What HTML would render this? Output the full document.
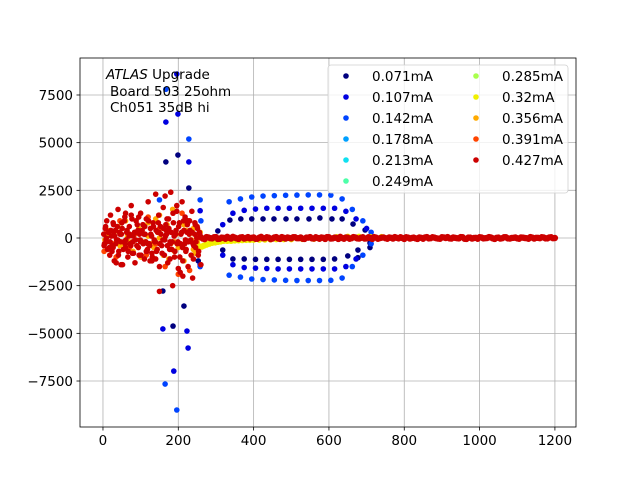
<!DOCTYPE html>
<html><head><meta charset="utf-8"><style>
html,body{margin:0;padding:0;background:#fff;}
svg{display:block;font-family:"DejaVu Sans","Liberation Sans",sans-serif;}
</style></head><body>
<svg id="chart" width="640" height="480" viewBox="0 0 640 480">
<rect x="0" y="0" width="640" height="480" fill="#fff"/>
<g id="grid"></g><g id="marks"></g><g id="axes"></g><g id="legend"></g>
</svg>
<script>
const NS="http://www.w3.org/2000/svg";
const xTicks=[0,200,400,600,800,1000,1200];
const yTicks=[-7500,-5000,-2500,0,2500,5000,7500];
const yTickLabels=["−7500","−5000","−2500","0","2500","5000","7500"];
const seriesNames=["0.071mA","0.107mA","0.142mA","0.178mA","0.213mA","0.249mA","0.285mA","0.32mA","0.356mA","0.391mA","0.427mA"];
const seriesColors=["#00007f","#0000e0","#0044ff","#00a0ff","#10e0f0","#4dffa9","#a9ff4d","#f0f000","#ffaa00","#ff4400","#cc0000"];
const s0X=[305,337,366,395,425,454,486,515,547,576,608,635,664,696,709,709,318,345,375,405,435,465,495,525,555,585,615,650,677,677,199,228,159,215,186,167,253];
const s0Y=[370,940,1000,1000,1000,1000,1000,1000,1000,1050,1000,1000,730,420,-260,-500,-630,-1100,-1100,-1120,-1120,-1120,-1120,-1120,-1120,-1120,-1100,-940,-630,-1030,4350,2620,-2780,-3570,-4620,3990,-1200];
const s1X=[318,345,375,405,435,465,495,525,555,585,615,645,672,700,318,345,375,405,435,465,495,525,555,585,615,645,672,196,167,199,228,159,223,226,188,258,258];
const s1Y=[700,1300,1450,1520,1560,1560,1560,1560,1560,1560,1560,1400,1000,500,-900,-1400,-1550,-1580,-1600,-1620,-1620,-1620,-1620,-1620,-1620,-1500,-1100,8600,6080,6500,3990,-4770,-4880,-5770,-6980,1430,-1400];
const s2X=[258,335,365,395,425,455,485,515,545,575,605,635,662,690,712,258,335,365,395,425,455,485,515,545,575,605,635,662,690,712,228,165,196,167,260,150];
const s2Y=[2000,1900,2050,2150,2200,2220,2240,2250,2260,2260,2250,2050,1500,900,300,-1500,-1950,-2050,-2150,-2180,-2200,-2220,-2230,-2230,-2230,-2220,-2100,-1500,-900,-300,5190,-7660,-9020,7800,900,2000];
const s7X=[250,255,262,268,275,282,290,298,305,312,320,330,340,350,360,370,380,390,400,415,430,445,460,480,500,530,560,590,620,650,680,710,740];
const s7Y=[-300,-500,-450,-400,-350,-300,-250,-230,-200,-180,-150,-150,-150,-130,-120,-110,-100,-100,-90,-85,-80,-70,-60,-60,-60,-50,-40,-30,40,60,60,50,50];
const s8X=[5,12,20,30,40,55,65,80,95,110,120,135,145,150,160,170,180,185,195,205,215,225,235,240,250,258,100,140,190,220,60,90,175,245,15,45,85,130,160,200,230,250,70,110,150,190,215,240,25,120];
const s8Y=[-100,200,-600,300,600,-300,100,-700,500,-200,800,-500,300,1200,-900,700,-300,1500,200,-400,-1200,900,-100,-600,-200,300,-1000,1000,-700,400,900,-400,-1100,-800,400,-400,300,-300,500,-500,200,-100,-200,600,0,-200,700,500,-300,100];
const s9X=[3,10,25,45,70,85,115,150,165,200,210,230,255,140,120,35];
const s9Y=[-700,400,-300,900,-500,200,-900,500,-1500,-1900,1300,-1700,100,-300,1100,-1000];
const s10X=[2,4,6,8,10,12,15,18,20,22,25,28,30,33,36,40,42,45,48,50,55,58,60,63,66,70,72,75,78,80,85,88,90,93,96,100,103,106,110,112,115,118,120,123,126,130,133,136,140,142,145,148,150,153,156,160,163,166,170,172,175,178,180,183,186,190,193,196,200,203,206,210,212,215,218,220,223,226,230,233,236,240,243,246,250,253,256,260,35,75,125,165,205,245,60,115,185,225,140,95,178,52,212,150,27,100,196,238,130,168];
const s10Y=[200,-300,500,-100,900,-600,300,-900,1200,100,-400,700,-1200,400,-100,1500,-700,200,-1400,800,-200,1100,-500,300,-1000,600,-300,1700,-800,100,-1300,900,-400,400,-900,1300,-200,700,-1100,200,1000,-600,1900,-300,500,-1200,800,-100,2300,-700,300,1200,-1500,600,-400,1600,-900,100,1000,-1300,500,-200,2400,-600,1300,-1000,200,1700,-1600,800,-300,1900,-1200,400,1100,-700,300,-1500,900,-100,1400,-1100,200,-500,600,-900,300,-1400,-1300,1200,-1200,2200,-1800,700,1300,-700,-2500,900,-1100,1100,-1100,-1400,-2000,-2800,-500,-200,1400,-2100,-800,400];
const s10bX=[3,7,11,14,17,21,24,27,31,34,38,41,44,47,51,54,57,61,64,67,71,74,77,81,84,87,91,94,97,101,104,107,111,114,117,121,124,127,131,134,137,141,144,147,151,154,157,161,164,167,171,174,177,181,184,187,191,194,197,201,204,207,211,214,217,221,224,227,231,234,237,241,244,247,251,254,257,9,19,29,39,49,59,69,79,89,99,109,119,129,139,149,159,169,179,189,199,209,219,229,239,249];
const s10bY=[-400,600,-200,300,-500,400,-700,800,100,-300,600,-900,300,-200,500,-600,900,-100,400,-700,200,-400,1000,-800,300,-100,700,-500,200,-900,400,-300,600,-200,-700,900,-400,200,-1000,600,-200,400,-600,800,-300,200,-800,500,-100,700,-400,1000,-600,300,-200,800,-700,400,-300,600,-1000,200,-500,900,-300,-600,700,-200,400,-900,300,-400,800,-200,500,-700,200,0,-200,300,-100,200,-300,100,-200,300,-100,200,-300,100,-200,300,-100,200,-300,100,-200,300,-100,200,-300,0];
const baseY=[40,-60,30,-20,50,-40,10,60,-30,20,-50,40,0,-20,30,-40,60,-10,20,-30,50,-50,10,30,-20,40,-10,-40,20,50,-30,0,30,-50,40,-20,10,60,-40,20,-10,30,-30,40,-20,0,50,-40,20,-10,30,-30,10,40,-50,20,0,-20,30,-40,50,-10,20,-30,40,0,-20,30,-10,50,-40,20,-30,10,40,-20,0,30,-50,20,-10,40,-30,10,-20,30,0,-40,20,10,-10,30,-20,40,0];
const baseY2=[-30,50,-10,40,-50,20,-40,10,60,-20,30,-30,50,10,-40,20,-10,40,-60,30,-20,50,-30,0,40,-10,30,-50,20,-20,40,-40,10,50,-30,20,-50,0,30,-40,50,-20,10,-30,40,-50,20,-10,30,-40,10,50,-20,0,40,-30,20,-50,10,30,-20,40,-10,-40,30,50,-30,10,-20,40,-50,20,0,-40,30,-10,50,-20,10,-30,40,-20,0,30,-40,20,-10,50,-30,10,40,-20,30,-10];
const baseX0=260, baseStep=10;

const L=80,R=576,T=58,B=427;
const xMin=-61,xMax=1256,yMin=-9912,yMax=9440;
const sx=v=>L+(v-xMin)/(xMax-xMin)*(R-L);
const sy=v=>B-(v-yMin)/(yMax-yMin)*(B-T);
function el(t,a,p){const e=document.createElementNS(NS,t);for(const k in a)e.setAttribute(k,a[k]);p.appendChild(e);return e;}
const grid=document.getElementById('grid'),marks=document.getElementById('marks'),axes=document.getElementById('axes'),leg=document.getElementById('legend');
xTicks.forEach(v=>{const g=el('line',{x1:sx(v),x2:sx(v),y1:T,y2:B,stroke:'#b0b0b0','stroke-width':0.8},grid);

el('line',{x1:sx(v),x2:sx(v),y1:B,y2:B+3.5,stroke:'#000','stroke-width':0.8},axes);
const t=el('text',{x:sx(v),y:B+18,'text-anchor':'middle','font-size':13.5,fill:'#000'},axes);t.textContent=v;
});
yTicks.forEach((v,i)=>{const g=el('line',{x1:L,x2:R,y1:sy(v),y2:sy(v),stroke:'#b0b0b0','stroke-width':0.8},grid);

el('line',{x1:L-3.5,x2:L,y1:sy(v),y2:sy(v),stroke:'#000','stroke-width':0.8},axes);
const t=el('text',{x:L-7,y:sy(v)+5,'text-anchor':'end','font-size':13.5,fill:'#000'},axes);t.textContent=yTickLabels[i];
});
const frame=el('rect',{x:L,y:T,width:R-L,height:B-T,fill:'none',stroke:'#000','stroke-width':0.8},axes);

function dots(xs,ys,c,name,r){xs.forEach((x,i)=>{const d=el('circle',{cx:sx(x),cy:sy(ys[i]),r:r||2.8,fill:c},marks);
});}
dots(s0X,s0Y,seriesColors[0],'point-0071ma');
dots(s1X,s1Y,seriesColors[1],'point-0107ma');
dots(s2X,s2Y,seriesColors[2],'point-0142ma');
dots(s7X,s7Y,seriesColors[7],'point-032ma',3.2);
dots(s8X,s8Y,seriesColors[8],'point-0356ma');
dots(s9X,s9Y,seriesColors[9],'point-0391ma');
dots(s10X,s10Y,seriesColors[10],'point-0427ma');
dots(s10bX,s10bY,seriesColors[10],'point-0427ma');
baseY.forEach((y,i)=>{const x=baseX0+i*baseStep;const d=el('circle',{cx:sx(x),cy:sy(y),r:3.2,fill:seriesColors[10]},marks);
});
baseY2.forEach((y,i)=>{const x=baseX0+5+i*baseStep;const d=el('circle',{cx:sx(x),cy:sy(y),r:3.2,fill:seriesColors[10]},marks);
});
const ann=el('text',{x:106,y:79,'font-size':13.5,fill:'#000'},axes);
ann.innerHTML='<tspan font-style="italic">ATLAS</tspan> Upgrade';

const a2=el('text',{x:110,y:96,'font-size':13.5,fill:'#000'},axes);a2.textContent='Board 503 25ohm';

const a3=el('text',{x:110,y:112,'font-size':13.5,fill:'#000'},axes);a3.textContent='Ch051 35dB hi';

const lb=el('rect',{x:328,y:65,width:240,height:128,rx:3,fill:'#fff','fill-opacity':0.8,stroke:'#d0d0d0','stroke-width':0.8},leg);

seriesNames.forEach((n,i)=>{const col=i<6?0:1,row=i<6?i:i-6;const y=76+row*21;
const g=el('g',{},leg);
el('circle',{cx:col?476:346,cy:y,r:2.8,fill:seriesColors[i]},g);
const t=el('text',{x:col?502:372,y:y+5,'font-size':13.5,fill:'#000'},g);t.textContent=n;});
</script>
</body></html>
